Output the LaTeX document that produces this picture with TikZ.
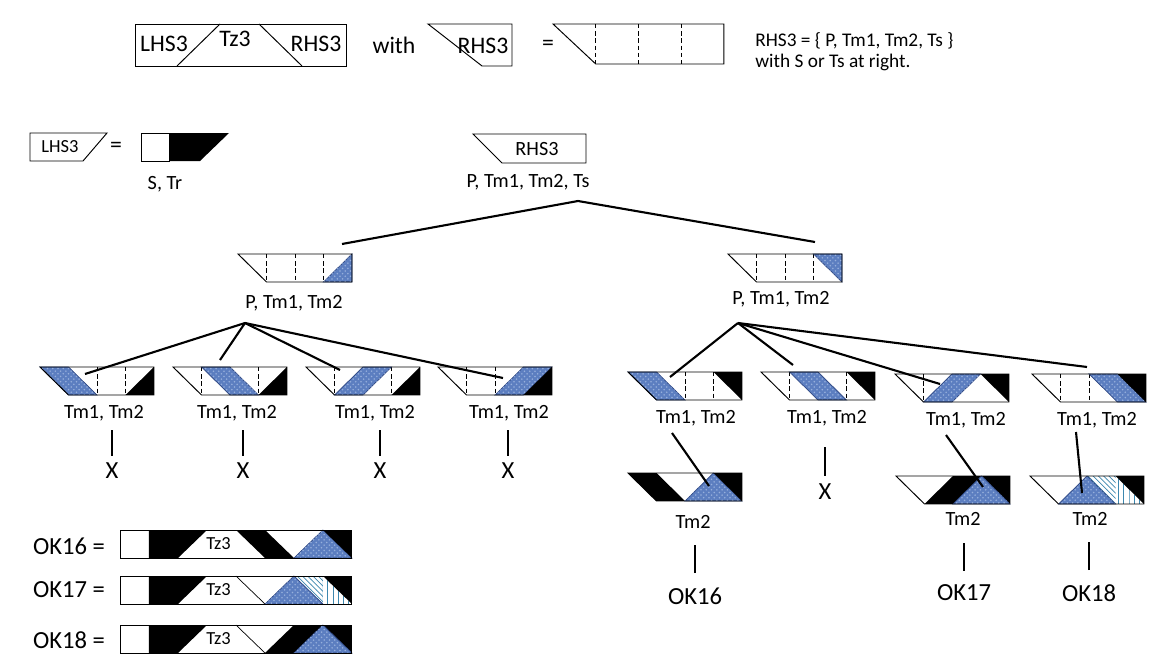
\documentclass[tikz,border=0pt]{standalone}
\usepackage{fontspec}
\setmainfont{Carlito}
\usetikzlibrary{patterns}
\definecolor{bluetex}{RGB}{92,126,192}
\definecolor{bluegrain}{RGB}{150,175,220}
\definecolor{bluedge}{RGB}{45,70,130}
\definecolor{hatchc}{RGB}{60,135,175}
\newcommand{\rcuts}[1]{\foreach \i in {#1} \draw[cut] (\i,0) -- (\i,1);}
\newcommand{\rframe}{\draw[frame] (0,0) -- (4,0) -- (4,1) -- (1,1) -- cycle;}

\begin{document}
\begin{tikzpicture}[
    x=0.02cm, y=-0.02cm,
    frame/.style={draw=black, line width=0.55pt},
    cut/.style={draw=black, line width=0.55pt, dash pattern=on 2.5pt off 1.6pt},
    tex/.style={fill=bluetex, draw=bluedge, line width=0.4pt,
      postaction={pattern=crosshatch dots, pattern color=bluegrain}},
    hatcha/.style={pattern=north west lines, pattern color=hatchc},
    hatchb/.style={pattern=vertical lines, pattern color=hatchc},
    branch/.style={draw=black, line width=1.2pt},
    cell/.style={x=0.57cm, y=-0.56cm},
    row/.style={x=0.58cm, y=-0.56cm},
    lbl/.style={font=\fontsize{11.5}{13}\selectfont, inner sep=0pt},
    top/.style={font=\fontsize{13.5}{16}\selectfont, inner sep=0pt},
    note/.style={font=\fontsize{11}{12}\selectfont, inner sep=0pt, anchor=west},
    small/.style={font=\fontsize{10.5}{12}\selectfont, inner sep=0pt},
    big/.style={font=\fontsize{14}{15}\selectfont, inner sep=0pt},
    okl/.style={font=\fontsize{14}{16}\selectfont, inner sep=0pt},
  ]
  \useasboundingbox (0,0) rectangle (1176,669);
  % Header
  \draw[frame] (135,24) rectangle (346,66);
  \draw[frame] (177,66) -- (220,24) (259,24) -- (302,66);
  \node[top] (lhs) at (164,44) {LHS3};
  \node[top] (tz) at (235,39) {Tz3};
  \node[top] (rhs) at (316,44) {RHS3};
  \node[top] (with) at (394,45) {with};
  \draw[frame] (428,24) -- (512,24) -- (512,66) -- (482,66) -- cycle;
  \node[top] (rhsb) at (483,46) {RHS3};
  \node[top] (eq) at (548,45) {=};
  \begin{scope}[shift={(553,24)}, x=0.855cm, y=-0.8cm]
    \rcuts{1,2,3}
    \rframe
  \end{scope}
  \node[note] (def) at (755,41) {RHS3 = \{ P, Tm1, Tm2, Ts \}};
  \node[note] (defb) at (755,62) {with S or Ts at right.};
  % LHS3
  \draw[frame] (30,133) -- (107,133) -- (83,161) -- (30,161) -- cycle;
  \node[small] (lhsc) at (60,147) {LHS3};
  \node[top] (eqb) at (116,147) {=};
  \draw[frame] (141,133) rectangle (169,161);
  \fill (169,133) -- (229,133) -- (200,161) -- (169,161) -- cycle;
  \node[lbl] (str) at (165,184) {S, Tr};
  % Root
  \draw[frame] (473,134) -- (586,134) -- (586,163) -- (502,163) -- cycle;
  \node[lbl] (rhsc) at (537,149) {RHS3};
  \node[lbl] (root) at (528,182) {P, Tm1, Tm2, Ts};
  \coordinate (r0) at (578,201);
  \coordinate (r1) at (342,244);
  \coordinate (r2) at (815,242);
  \draw[branch] (r1) -- (r0) -- (r2);
  % Level 2
  \begin{scope}[shift={(238,254)}, cell]
    \rcuts{1,2,3}
    \path[tex] (3,1) -- (4,1) -- (4,0) -- cycle;
    \rframe
  \end{scope}
  \node[lbl] (pa) at (294,303) {P, Tm1, Tm2};
  \begin{scope}[shift={(728,254)}, cell]
    \rcuts{1,2,3}
    \path[tex] (3,0) -- (4,0) -- (4,1) -- cycle;
    \rframe
  \end{scope}
  \node[lbl] (pb) at (781,299) {P, Tm1, Tm2};
  \coordinate (pa0) at (245,323);
  \coordinate (a1) at (85,374);
  \coordinate (a2) at (220,360);
  \coordinate (a3) at (340,370);
  \coordinate (a4) at (503,378);
  \foreach \e in {a1,a2,a3,a4} \draw[branch] (pa0) -- (\e);
  \coordinate (pb0) at (738,323);
  \coordinate (b1) at (670,377);
  \coordinate (b2) at (793,365);
  \coordinate (b3) at (940,384);
  \coordinate (b4) at (1087,367);
  \foreach \e in {b1,b2,b3,b4} \draw[branch] (pb0) -- (\e);
  % Level 3, left
  \begin{scope}[shift={(40,367)}, cell]
    \rcuts{1,2,3}
    \path[tex] (0,0) -- (1,0) -- (2,1) -- (1,1) -- cycle;
    \fill (3,1) -- (4,1) -- (4,0) -- cycle;
    \rframe
  \end{scope}
  \begin{scope}[shift={(173,367)}, cell]
    \rcuts{1,2,3}
    \path[tex] (1,0) -- (2,0) -- (3,1) -- (2,1) -- cycle;
    \fill (3,1) -- (4,1) -- (4,0) -- cycle;
    \rframe
  \end{scope}
  \begin{scope}[shift={(306,367)}, cell]
    \rcuts{1,2,3}
    \path[tex] (1,1) -- (2,1) -- (3,0) -- (2,0) -- cycle;
    \fill (3,1) -- (4,1) -- (4,0) -- cycle;
    \rframe
  \end{scope}
  \begin{scope}[shift={(438,367)}, cell]
    \rcuts{1,2,3}
    \path[tex] (2,1) -- (3,1) -- (4,0) -- (3,0) -- cycle;
    \fill (3,1) -- (4,1) -- (4,0) -- cycle;
    \rframe
  \end{scope}
  \foreach \n/\x/\lx in {1/104/112, 2/237/243, 3/375/380, 4/509/508} {
    \node[lbl] (m\n) at (\x,413) {Tm1, Tm2};
    \node[big] (x\n) at (\lx,471) {X};
    \draw[branch] ([yshift=4pt]x\n.north) -- ++(0,-26);
  }
  % Level 3, right
  \begin{scope}[shift={(628,372)}, cell]
    \rcuts{1,2,3}
    \path[tex] (0,0) -- (1,0) -- (2,1) -- (1,1) -- cycle;
    \fill (3,0) -- (4,0) -- (4,1) -- cycle;
    \rframe
  \end{scope}
  \begin{scope}[shift={(761,372)}, cell]
    \rcuts{1,2,3}
    \path[tex] (1,0) -- (2,0) -- (3,1) -- (2,1) -- cycle;
    \fill (3,0) -- (4,0) -- (4,1) -- cycle;
    \rframe
  \end{scope}
  \begin{scope}[shift={(895,374)}, cell]
    \rcuts{1}
    \path[tex] (1,1) -- (2,1) -- (3,0) -- (2,0) -- cycle;
    \fill (3,0) -- (4,0) -- (4,1) -- cycle;
    \rframe
  \end{scope}
  \begin{scope}[shift={(1032,374)}, cell]
    \rcuts{1,2,3}
    \path[tex] (2,0) -- (3,0) -- (4,1) -- (3,1) -- cycle;
    \fill (3,0) -- (4,0) -- (4,1) -- cycle;
    \rframe
  \end{scope}
  \node[lbl] (n1) at (696,418) {Tm1, Tm2};
  \node[lbl] (n2) at (827,418) {Tm1, Tm2};
  \node[lbl] (n3) at (966,420) {Tm1, Tm2};
  \node[lbl] (n4) at (1097,420) {Tm1, Tm2};
  \node[big] (y2) at (825,492) {X};
  \draw[branch] ([yshift=4.5pt]y2.north) -- ++(0,-29);
  \coordinate (c1) at (672,433);
  \coordinate (d1) at (709,486);
  \coordinate (c3) at (946,435);
  \coordinate (d3) at (983,487);
  \coordinate (c4) at (1076,432);
  \coordinate (d4) at (1082,493);
  % Level 4
  \begin{scope}[shift={(628,473)}, cell]
    \fill (0,0) -- (1,0) -- (2,1) -- (1,1) -- cycle;
    \path[tex] (2,1) -- (3,0) -- (4,1) -- cycle;
    \fill (3,0) -- (4,0) -- (4,1) -- cycle;
    \rframe
  \end{scope}
  \begin{scope}[shift={(896,476)}, cell]
    \fill (1,1) -- (2,0) -- (4,0) -- (4,1) -- cycle;
    \path[tex] (2,1) -- (3,0) -- (4,1) -- cycle;
    \rframe
  \end{scope}
  \begin{scope}[shift={(1030,476)}, cell]
    \path[hatcha] (2,0) -- (3,0) -- (3,1) -- cycle;
    \path[hatchb] (3,0) -- (4,1) -- (3,1) -- cycle;
    \path[tex] (1,1) -- (2,0) -- (3,1) -- cycle;
    \fill (3,0) -- (4,0) -- (4,1) -- cycle;
    \rframe
  \end{scope}
  \foreach \e in {1,3,4} \draw[branch] (c\e) -- (d\e);
  \node[lbl] (t1) at (693,522) {Tm2};
  \node[lbl] (t3) at (963,519) {Tm2};
  \node[lbl] (t4) at (1090,519) {Tm2};
  \node[okl] (k1) at (695,596) {OK16};
  \node[okl] (k3) at (964,593) {OK17};
  \node[okl] (k4) at (1089,593) {OK18};
  \foreach \e in {k1,k3,k4} \draw[branch] ([yshift=8pt]\e.north) -- ++(0,-28);
  % OK rows
  \node[okl] (ok16) at (69,546) {OK16 =};
  \node[okl] (ok17) at (69,590) {OK17 =};
  \node[okl] (ok18) at (69,640) {OK18 =};
  \begin{scope}[shift={(120,530)}, row]
    \fill (1,0) -- (3,0) -- (2,1) -- (1,1) -- cycle;
    \fill (4,0) -- (5,0) -- (6,1) -- (5,1) -- cycle;
    \path[tex] (6,1) -- (7,0) -- (8,1) -- cycle;
    \fill (7,0) -- (8,0) -- (8,1) -- cycle;
    \draw[frame] (0,0) rectangle (8,1);
    \node[small] (tz16) at (3.4,0.5) {Tz3};
  \end{scope}
  \begin{scope}[shift={(120,576)}, row]
    \fill (1,0) -- (3,0) -- (2,1) -- (1,1) -- cycle;
    \draw[frame, line width=0.4pt] (4,0) -- (5,1);
    \path[hatcha] (6,0) -- (7,0) -- (7,1) -- cycle;
    \path[hatchb] (7,0) -- (8,1) -- (7,1) -- cycle;
    \path[tex] (5,1) -- (6,0) -- (7,1) -- cycle;
    \fill (7,0) -- (8,0) -- (8,1) -- cycle;
    \draw[frame] (0,0) rectangle (8,1);
    \node[small] (tz17) at (3.4,0.5) {Tz3};
  \end{scope}
  \begin{scope}[shift={(120,625)}, row]
    \fill (1,0) -- (3,0) -- (2,1) -- (1,1) -- cycle;
    \draw[frame, line width=0.4pt] (4,0) -- (5,1);
    \fill (5,1) -- (6,0) -- (8,0) -- (8,1) -- cycle;
    \path[tex] (6,1) -- (7,0) -- (8,1) -- cycle;
    \draw[frame] (0,0) rectangle (8,1);
    \node[small] (tz18) at (3.4,0.5) {Tz3};
  \end{scope}
\end{tikzpicture}
\end{document}
